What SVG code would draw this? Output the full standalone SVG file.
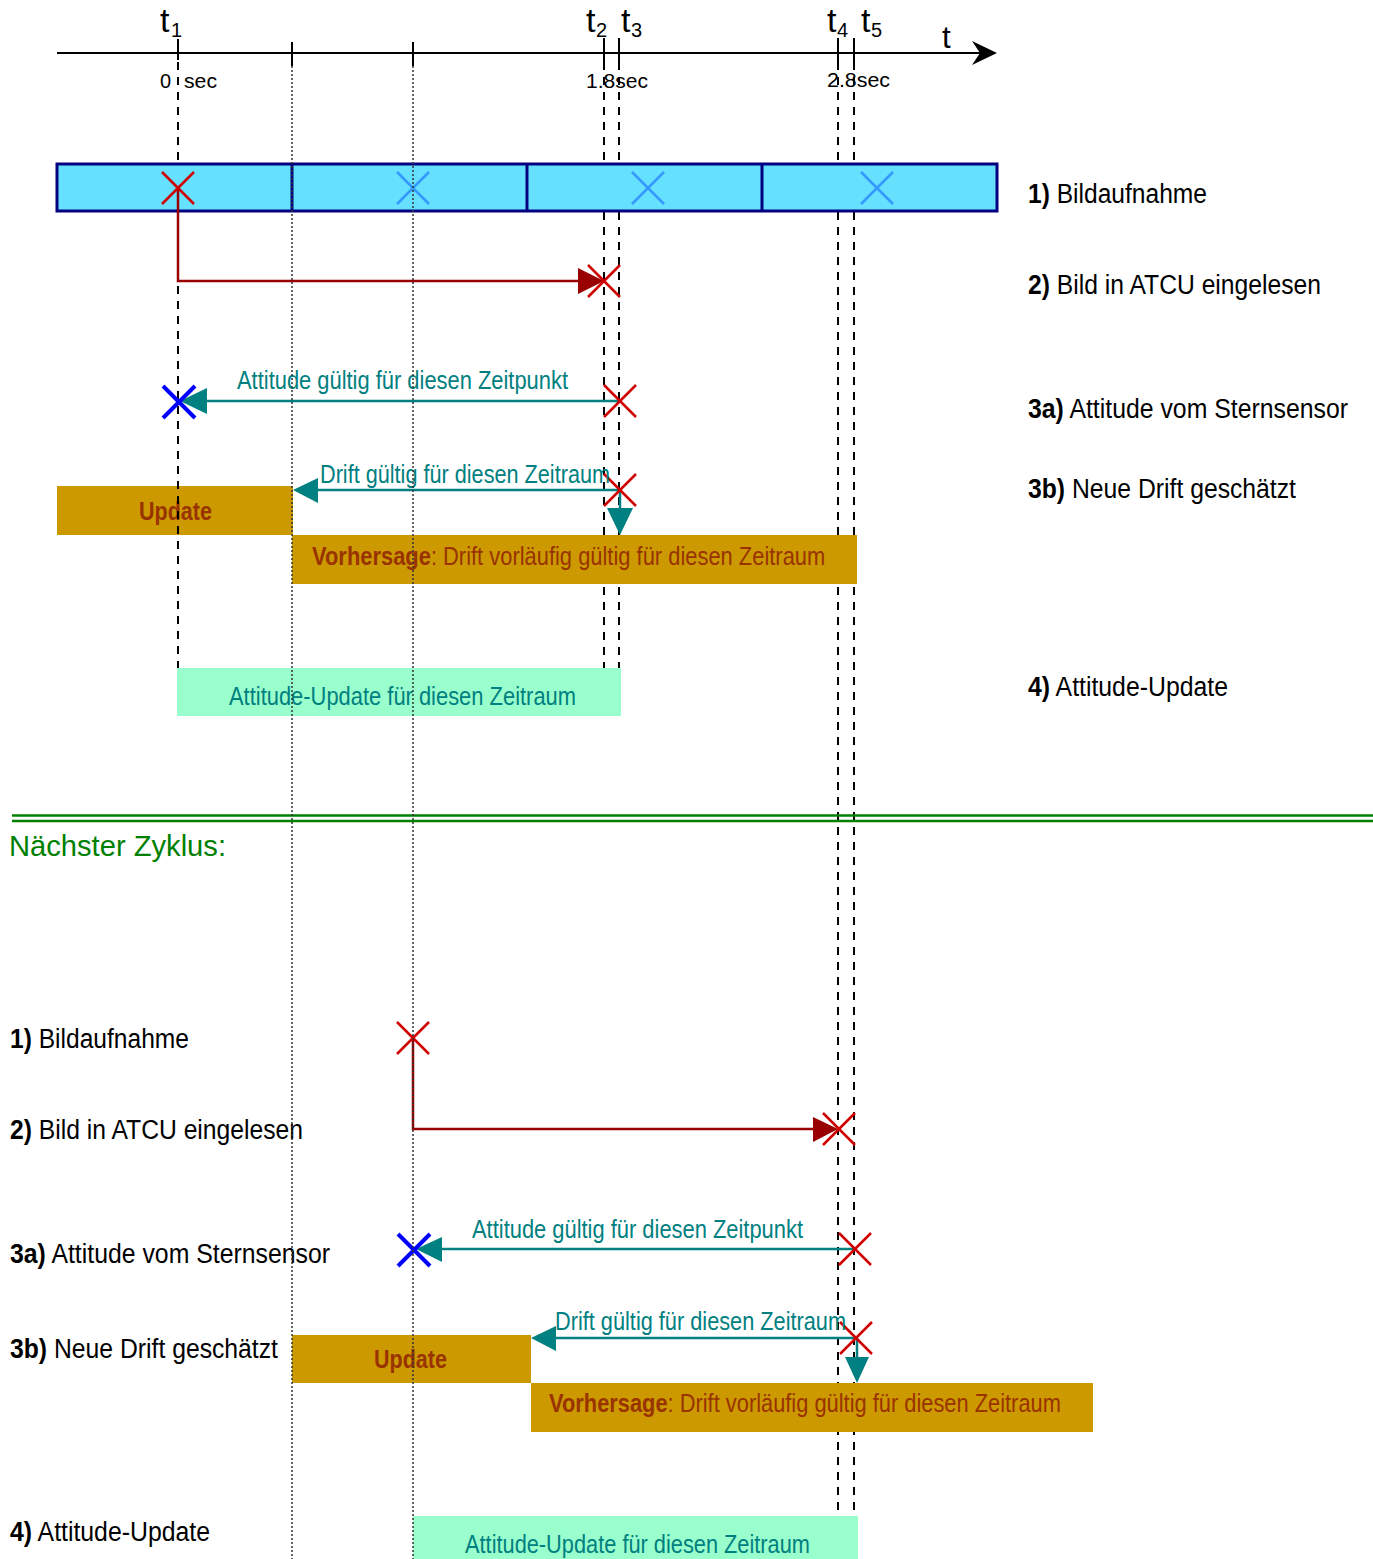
<svg xmlns="http://www.w3.org/2000/svg" width="1373" height="1559" viewBox="0 0 1373 1559">
<defs>
<style>
text{font-family:"Liberation Sans",Arial,sans-serif}
.lbl{font-size:27px;fill:#000}
.b{font-weight:bold}
.teal{font-size:25px;fill:#008080}
.upd{font-size:25px;fill:#993300;font-weight:bold}
.vor{font-size:25px;fill:#993300}
.ax{font-size:34px;fill:#000}
.sub{font-size:20px;fill:#000}
.sec{font-size:20px;fill:#000}
.dash{stroke:#000;stroke-width:2;stroke-dasharray:8 7;fill:none}
.dot{stroke:#333;stroke-width:1.5;stroke-dasharray:2 2;fill:none}
.tick{stroke:#000;stroke-width:2}
.xr{stroke:#D00000;stroke-width:2.5;fill:none}
.xl{stroke:#3399FF;stroke-width:2.5;fill:none}
.xb{stroke:#0000FF;stroke-width:4;fill:none}
.red{stroke:#990000;stroke-width:2.5;fill:none}
.redh{fill:#990000}
.tl{stroke:#008080;stroke-width:2.5;fill:none}
.tlh{fill:#008080}
.frame{fill:#66E0FF;stroke:#000080;stroke-width:3}
.gold{fill:#CC9900}
.mint{fill:#99FFCC}
.green{stroke:#008000;stroke-width:2.5}
</style>
<path id="xs" d="M-16,-16L16,16M-16,16L16,-16"/>
</defs>
<rect width="1373" height="1559" fill="#fff"/>

<g id="guides-back">
<line class="dash" x1="604" y1="62" x2="604" y2="668"/>
<line class="dash" x1="619" y1="62" x2="619" y2="668"/>
<line class="dash" x1="838" y1="62" x2="838" y2="1559"/>
<line class="dash" x1="854" y1="62" x2="854" y2="1559"/>
</g>

<g id="axis">
<line x1="57" y1="53" x2="982" y2="53" stroke="#000" stroke-width="2"/>
<path d="M972,41L997,53L972,65L980,53Z" fill="#000"/>
<line class="tick" x1="178" y1="39" x2="178" y2="60"/>
<line class="tick" x1="292" y1="42" x2="292" y2="66"/>
<line class="tick" x1="413" y1="42" x2="413" y2="66"/>
<line class="tick" x1="604" y1="38" x2="604" y2="62"/>
<line class="tick" x1="619" y1="38" x2="619" y2="62"/>
<line class="tick" x1="838" y1="38" x2="838" y2="62"/>
<line class="tick" x1="854" y1="38" x2="854" y2="62"/>
<text class="ax" x="160" y="32">t</text><text class="sub" x="171" y="37">1</text>
<text class="ax" x="586" y="32">t</text><text class="sub" x="596" y="37">2</text>
<text class="ax" x="621" y="32">t</text><text class="sub" x="631" y="37">3</text>
<text class="ax" x="827" y="32">t</text><text class="sub" x="837" y="37">4</text>
<text class="ax" x="861" y="32">t</text><text class="sub" x="871" y="37">5</text>
<text x="942" y="48" style="font-size:31px">t</text>
<text class="sec" x="160" y="88">0</text>
<text class="sec" x="184" y="88" textLength="33" lengthAdjust="spacingAndGlyphs">sec</text>
<text class="sec" x="586" y="88" textLength="62" lengthAdjust="spacingAndGlyphs">1.8sec</text>
<text class="sec" x="827" y="87" textLength="63" lengthAdjust="spacingAndGlyphs">2.8sec</text>
</g>

<g id="frames">
<rect class="frame" x="57" y="164" width="940" height="47"/>
<line x1="292" y1="164" x2="292" y2="211" stroke="#000080" stroke-width="3"/>
<line x1="527" y1="164" x2="527" y2="211" stroke="#000080" stroke-width="3"/>
<line x1="762" y1="164" x2="762" y2="211" stroke="#000080" stroke-width="3"/>
</g>

<g id="update-top">
<rect class="gold" x="57" y="486" width="236" height="49"/>
<text class="upd" x="139" y="520" textLength="73" lengthAdjust="spacingAndGlyphs">Update</text>
</g>
<g id="vorhersage-top">
<rect class="gold" x="292" y="535" width="565" height="49"/>
<text class="vor" transform="translate(312,565) scale(0.876,1)"><tspan class="b">Vorhersage</tspan>: Drift vorläufig gültig für diesen Zeitraum</text>
</g>
<g id="attitude-update-top">
<rect class="mint" x="177" y="668" width="444" height="48"/>
<text class="teal" x="229" y="705" textLength="347" lengthAdjust="spacingAndGlyphs">Attitude-Update für diesen Zeitraum</text>
</g>

<g id="update-bottom">
<rect class="gold" x="292" y="1335" width="239" height="48"/>
<text class="upd" x="374" y="1368" textLength="73" lengthAdjust="spacingAndGlyphs">Update</text>
</g>
<g id="vorhersage-bottom">
<rect class="gold" x="531" y="1383" width="562" height="49"/>
<text class="vor" transform="translate(549,1412) scale(0.874,1)"><tspan class="b">Vorhersage</tspan>: Drift vorläufig gültig für diesen Zeitraum</text>
</g>
<g id="attitude-update-bottom">
<rect class="mint" x="413" y="1516" width="445" height="43"/>
<text class="teal" x="465" y="1553" textLength="345" lengthAdjust="spacingAndGlyphs">Attitude-Update für diesen Zeitraum</text>
</g>

<g id="guide-t1">
<line class="dash" x1="178" y1="62" x2="178" y2="164"/>
<line class="dash" x1="178" y1="211" x2="178" y2="668"/>
</g>

<g id="connectors">
<path class="red" d="M178,188V281H580"/>
<polygon class="redh" points="578,268 604,281 578,294"/>
<line class="tl" x1="620" y1="401" x2="205" y2="401"/>
<polygon class="tlh" points="180,401 207,388 207,414"/>
<line class="tl" x1="620" y1="490" x2="316" y2="490"/>
<polygon class="tlh" points="293,490 318,478 318,503"/>
<line class="tl" x1="620" y1="490" x2="620" y2="510"/>
<polygon class="tlh" points="607,508 633,508 620,535"/>

<path class="red" d="M413,1038V1129H815"/>
<polygon class="redh" points="813,1117 838,1129 813,1142"/>
<line class="tl" x1="855" y1="1249" x2="440" y2="1249"/>
<polygon class="tlh" points="416,1249 442,1237 442,1262"/>
<line class="tl" x1="856" y1="1338" x2="554" y2="1338"/>
<polygon class="tlh" points="531,1338 556,1326 556,1351"/>
<line class="tl" x1="857" y1="1338" x2="857" y2="1359"/>
<polygon class="tlh" points="845,1357 869,1357 857,1383"/>
</g>

<g id="markers">
<use href="#xs" class="xr" x="178" y="188"/>
<use href="#xs" class="xl" x="413" y="188"/>
<use href="#xs" class="xl" x="648" y="188"/>
<use href="#xs" class="xl" x="877" y="188"/>
<use href="#xs" class="xr" x="604" y="281"/>
<use href="#xs" class="xb" x="179" y="402"/>
<use href="#xs" class="xr" x="620" y="401"/>
<use href="#xs" class="xr" x="620" y="490"/>
<use href="#xs" class="xr" x="413" y="1038"/>
<use href="#xs" class="xr" x="839" y="1129"/>
<use href="#xs" class="xb" x="414" y="1250"/>
<use href="#xs" class="xr" x="855" y="1249"/>
<use href="#xs" class="xr" x="856" y="1338"/>
</g>

<g id="arrow-labels">
<text class="teal" x="237" y="389" textLength="331" lengthAdjust="spacingAndGlyphs">Attitude gültig für diesen Zeitpunkt</text>
<text class="teal" x="320" y="483" textLength="290" lengthAdjust="spacingAndGlyphs">Drift gültig für diesen Zeitraum</text>
<text class="teal" x="472" y="1238" textLength="331" lengthAdjust="spacingAndGlyphs">Attitude gültig für diesen Zeitpunkt</text>
<text class="teal" x="555" y="1330" textLength="291" lengthAdjust="spacingAndGlyphs">Drift gültig für diesen Zeitraum</text>
</g>

<g id="labels-right">
<text class="lbl" x="1028" y="203" textLength="179" lengthAdjust="spacingAndGlyphs"><tspan class="b">1)</tspan> Bildaufnahme</text>
<text class="lbl" x="1028" y="294" textLength="293" lengthAdjust="spacingAndGlyphs"><tspan class="b">2)</tspan> Bild in ATCU eingelesen</text>
<text class="lbl" x="1028" y="418" textLength="320" lengthAdjust="spacingAndGlyphs"><tspan class="b">3a)</tspan> Attitude vom Sternsensor</text>
<text class="lbl" x="1028" y="498" textLength="268" lengthAdjust="spacingAndGlyphs"><tspan class="b">3b)</tspan> Neue Drift geschätzt</text>
<text class="lbl" x="1028" y="696" textLength="200" lengthAdjust="spacingAndGlyphs"><tspan class="b">4)</tspan> Attitude-Update</text>
</g>

<g id="separator">
<line class="green" x1="12" y1="815.5" x2="1373" y2="815.5"/>
<line class="green" x1="12" y1="821" x2="1373" y2="821"/>
<text x="9" y="856" style="font-size:29px;fill:#008000" textLength="217" lengthAdjust="spacingAndGlyphs">Nächster Zyklus:</text>
</g>

<g id="labels-left">
<text class="lbl" x="10" y="1048" textLength="179" lengthAdjust="spacingAndGlyphs"><tspan class="b">1)</tspan> Bildaufnahme</text>
<text class="lbl" x="10" y="1139" textLength="293" lengthAdjust="spacingAndGlyphs"><tspan class="b">2)</tspan> Bild in ATCU eingelesen</text>
<text class="lbl" x="10" y="1263" textLength="320" lengthAdjust="spacingAndGlyphs"><tspan class="b">3a)</tspan> Attitude vom Sternsensor</text>
<text class="lbl" x="10" y="1358" textLength="268" lengthAdjust="spacingAndGlyphs"><tspan class="b">3b)</tspan> Neue Drift geschätzt</text>
<text class="lbl" x="10" y="1541" textLength="200" lengthAdjust="spacingAndGlyphs"><tspan class="b">4)</tspan> Attitude-Update</text>
</g>

<g id="guides-dotted">
<line class="dot" x1="292" y1="66" x2="292" y2="1559"/>
<line class="dot" x1="413" y1="66" x2="413" y2="1559"/>
</g>
</svg>
